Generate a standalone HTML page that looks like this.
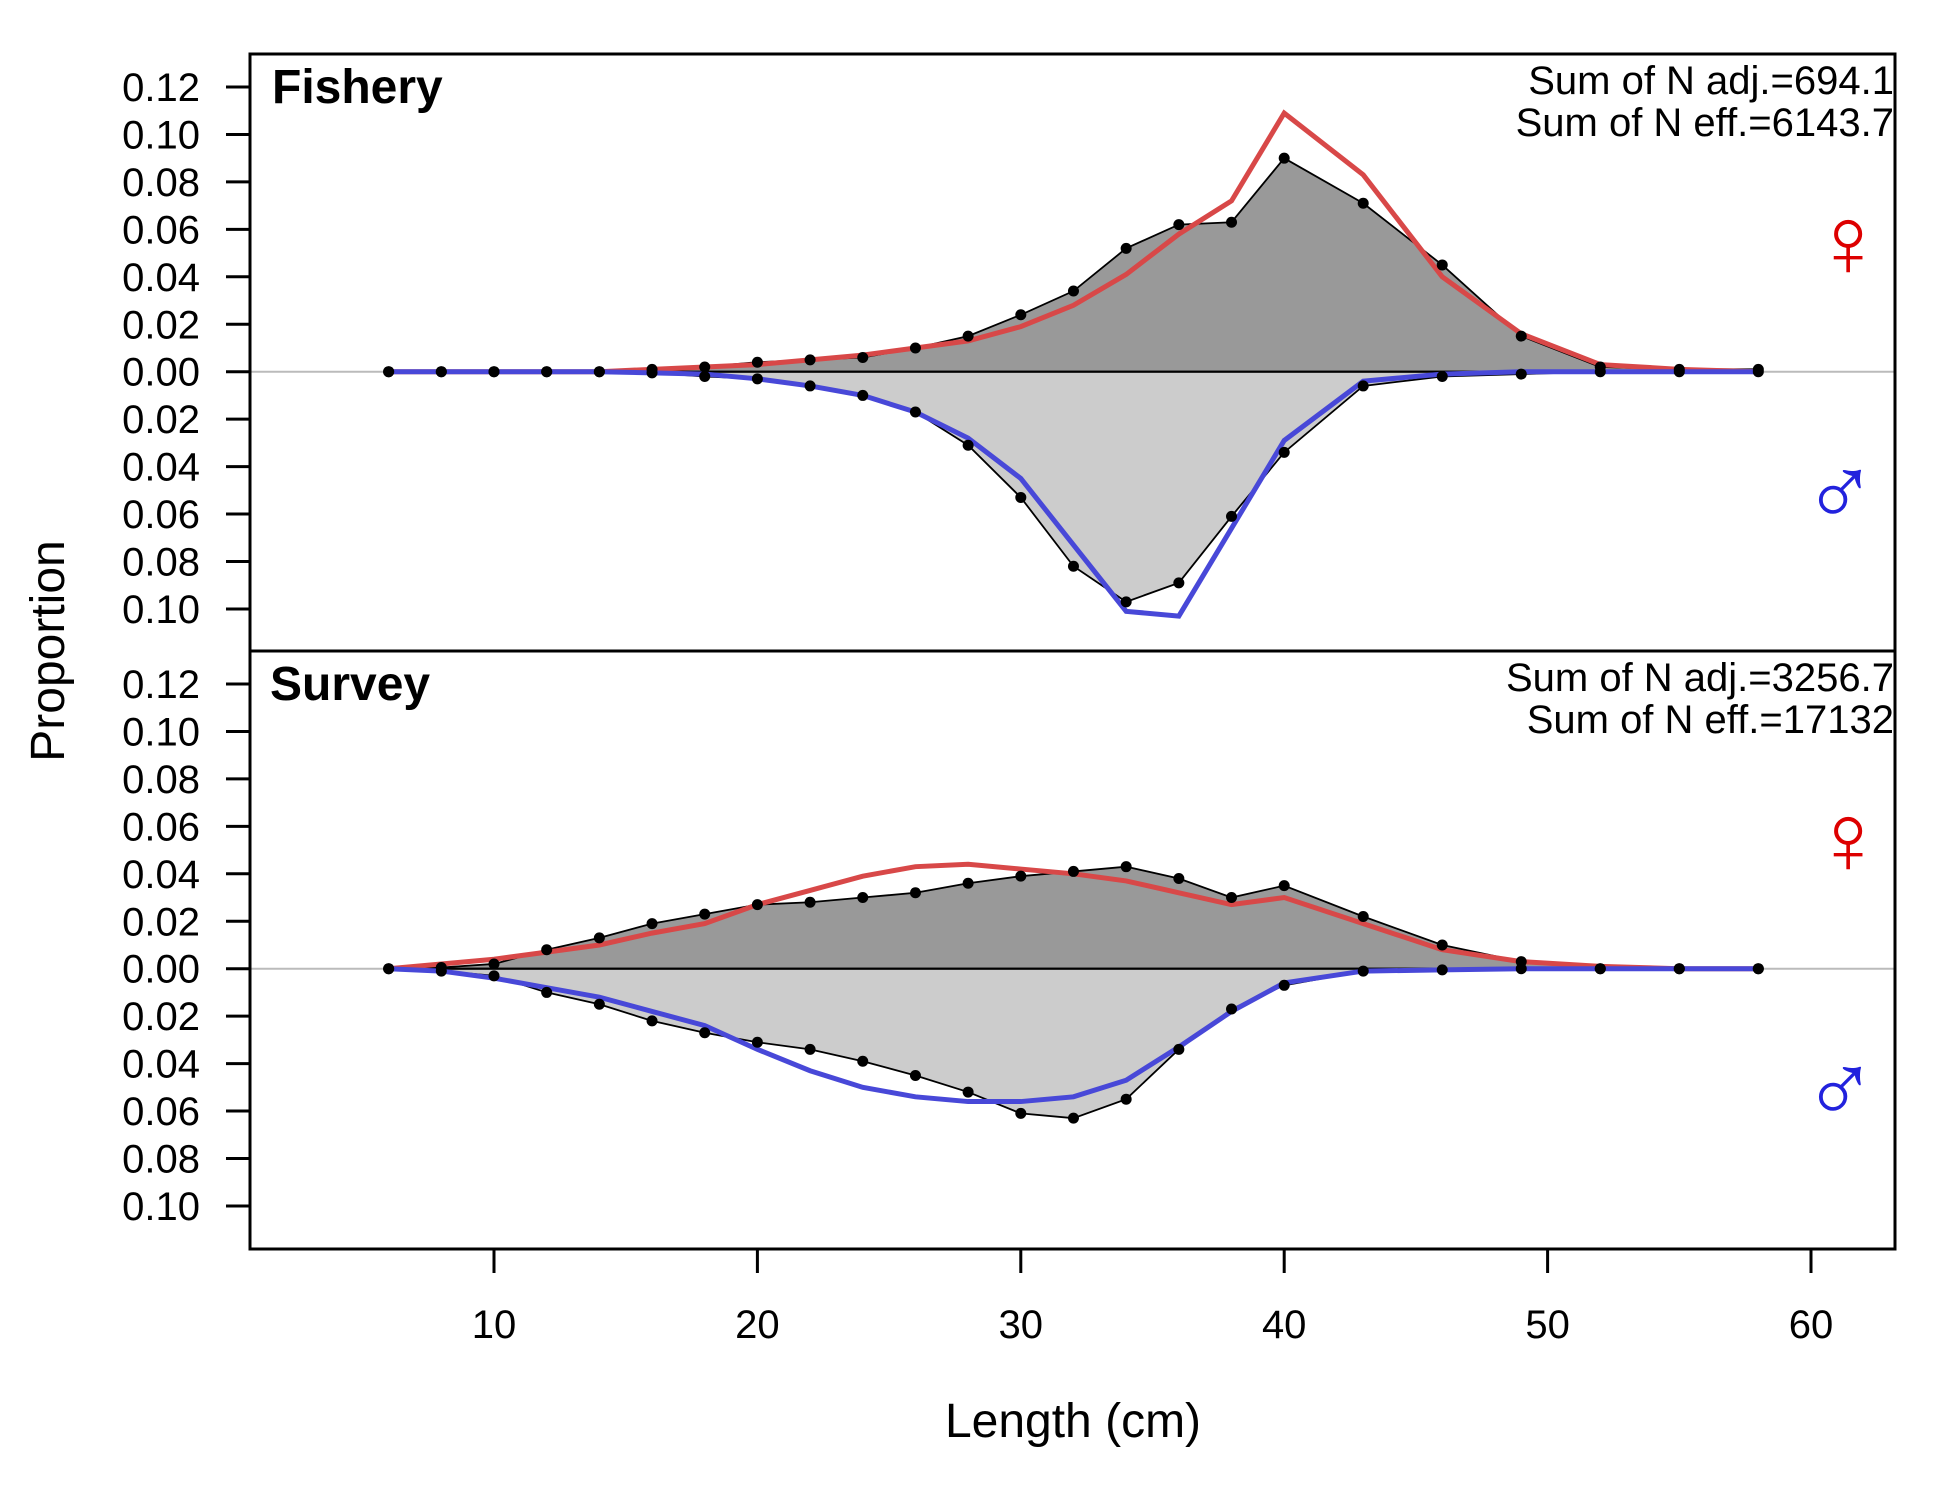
<!DOCTYPE html>
<html><head><meta charset="utf-8"><style>
body{margin:0;background:#fff}
svg{display:block;font-family:"Liberation Sans",sans-serif}
</style></head><body>
<svg id="c" width="1950" height="1500" viewBox="0 0 1950 1500" xmlns="http://www.w3.org/2000/svg"></svg>
<script>
const lengths=[6,8,10,12,14,16,18,20,22,24,26,28,30,32,34,36,38,40,43,46,49,52,55,58];
const fishFemObs=[0,0,0,0,0,0.001,0.002,0.004,0.005,0.006,0.010,0.015,0.024,0.034,0.052,0.062,0.063,0.090,0.071,0.045,0.015,0.002,0.001,0.001];
const fishFemExp=[0,0,0,0,0,0.001,0.002,0.003,0.005,0.007,0.010,0.013,0.019,0.028,0.041,0.058,0.072,0.109,0.083,0.040,0.016,0.003,0.001,0];
const fishMalObs=[0,0,0,0,0,0.0005,0.002,0.003,0.006,0.010,0.017,0.031,0.053,0.082,0.097,0.089,0.061,0.034,0.006,0.002,0.001,0,0,0];
const fishMalExp=[0,0,0,0,0,0.0005,0.001,0.003,0.006,0.010,0.017,0.028,0.045,0.073,0.101,0.103,0.066,0.029,0.004,0.001,0,0,0,0];
const survFemObs=[0,0.0005,0.002,0.008,0.013,0.019,0.023,0.027,0.028,0.030,0.032,0.036,0.039,0.041,0.043,0.038,0.030,0.035,0.022,0.010,0.003,0,0,0];
const survFemExp=[0,0.002,0.004,0.007,0.010,0.015,0.019,0.027,0.033,0.039,0.043,0.044,0.042,0.040,0.037,0.032,0.027,0.030,0.019,0.008,0.003,0.001,0,0];
const survMalObs=[0,0.001,0.003,0.010,0.015,0.022,0.027,0.031,0.034,0.039,0.045,0.052,0.061,0.063,0.055,0.034,0.017,0.007,0.001,0.0005,0,0,0,0];
const survMalExp=[0,0.001,0.004,0.008,0.012,0.018,0.024,0.034,0.043,0.050,0.054,0.056,0.056,0.054,0.047,0.033,0.018,0.006,0.001,0.0005,0,0,0,0];
const femTicks=["0.12","0.10","0.08","0.06","0.04","0.02","0.00"];
const malTicks=["0.02","0.04","0.06","0.08","0.10"];
const xTicks=[10,20,30,40,50,60];

const svg=document.getElementById('c');
const NS='http://www.w3.org/2000/svg';
function mk(t,a,p){const e=document.createElementNS(NS,t);for(const k in a)e.setAttribute(k,a[k]);(p||svg).appendChild(e);return e;}
const L=250,R=1895;
const X=v=>230.6+26.34*v;
const stepPx=47.45/0.02;
const panels=[
 {name:'fishery',title:'Fishery',top:54,bot:651,zero:371.7,fo:fishFemObs,fe:fishFemExp,mo:fishMalObs,me:fishMalExp,t1:'Sum of N adj.=694.1',t2:'Sum of N eff.=6143.7'},
 {name:'survey',title:'Survey',top:651,bot:1249,zero:968.7,fo:survFemObs,fe:survFemExp,mo:survMalObs,me:survMalExp,t1:'Sum of N adj.=3256.7',t2:'Sum of N eff.=17132'}
];
panels.forEach(p=>{
 const g=mk('g',{});
 
 
 const Yf=v=>p.zero-v*stepPx, Ym=v=>p.zero+v*stepPx;
 mk('line',{x1:L,x2:R,y1:p.zero,y2:p.zero,stroke:'#bbb','stroke-width':2},g);
 const fpts=lengths.map((l,i)=>X(l)+','+Yf(p.fo[i]));
 const mpts=lengths.map((l,i)=>X(l)+','+Ym(p.mo[i]));
 const pf=mk('polygon',{points:fpts.join(' ')+' '+X(58)+','+p.zero+' '+X(6)+','+p.zero,fill:'#999',stroke:'#000','stroke-width':1.8},g);
 
 
 const pm=mk('polygon',{points:mpts.join(' ')+' '+X(58)+','+p.zero+' '+X(6)+','+p.zero,fill:'#ccc',stroke:'#000','stroke-width':1.8},g);
 
 
 mk('line',{x1:X(6),x2:X(58),y1:p.zero,y2:p.zero,stroke:'#000','stroke-width':2},g);
 const lf=mk('polyline',{points:lengths.map((l,i)=>X(l)+','+Yf(p.fe[i])).join(' '),fill:'none',stroke:'#d84848','stroke-width':5},g);
 
 
 const lm=mk('polyline',{points:lengths.map((l,i)=>X(l)+','+Ym(p.me[i])).join(' '),fill:'none',stroke:'#4848d8','stroke-width':5},g);
 
 
 lengths.forEach((l,i)=>{
  const a=mk('circle',{cx:X(l),cy:Yf(p.fo[i]),r:5.5,fill:'#000'},g);
  
  
  const b=mk('circle',{cx:X(l),cy:Ym(p.mo[i]),r:5.5,fill:'#000'},g);
  
  
 });
 femTicks.forEach((t,i)=>{const y=Yf(parseFloat(t));
  mk('line',{x1:226,x2:L,y1:y,y2:y,stroke:'#000','stroke-width':3},g);
  const tx=mk('text',{x:200,y:y+14,'font-size':40,'text-anchor':'end'},g);tx.textContent=t;
  
  });
 malTicks.forEach((t,i)=>{const y=Ym(parseFloat(t));
  mk('line',{x1:226,x2:L,y1:y,y2:y,stroke:'#000','stroke-width':3},g);
  const tx=mk('text',{x:200,y:y+14,'font-size':40,'text-anchor':'end'},g);tx.textContent=t;
  
  });
 const ti=mk('text',{x:p.name=='fishery'?272:270,y:p.top+49,'font-size':48,'font-weight':'bold'},g);ti.textContent=p.title;
 
 
 const s1=mk('text',{x:1894,y:p.top+40,'font-size':40,'text-anchor':'end'},g);s1.textContent=p.t1;
 
 
 const s2=mk('text',{x:1894,y:p.top+82,'font-size':40,'text-anchor':'end'},g);s2.textContent=p.t2;
 
 
 const fs=mk('text',{x:1848,y:p.top+222,'font-size':100,'text-anchor':'middle',fill:'#d00'},g);fs.textContent='♀';
 
 
 const ms=mk('text',{x:1840,y:p.top+472,'font-size':100,'text-anchor':'middle',fill:'#22d'},g);ms.textContent='♂';
 
 
});
const fr=mk('rect',{x:L,y:54,width:R-L,height:1249-54,fill:'none',stroke:'#000','stroke-width':3});


mk('line',{x1:L,x2:R,y1:651,y2:651,stroke:'#000','stroke-width':3});
xTicks.forEach(v=>{
 mk('line',{x1:X(v),x2:X(v),y1:1249,y2:1273,stroke:'#000','stroke-width':3});
 const t=mk('text',{x:X(v),y:1338,'font-size':40,'text-anchor':'middle'});t.textContent=v;
 
 
});
const xt=mk('text',{x:1073,y:1437,'font-size':48,'text-anchor':'middle'});xt.textContent='Length (cm)';


const yt=mk('text',{x:0,y:0,'font-size':48,'text-anchor':'middle',transform:'translate(64,651) rotate(-90)'});yt.textContent='Proportion';


</script>
</body></html>
